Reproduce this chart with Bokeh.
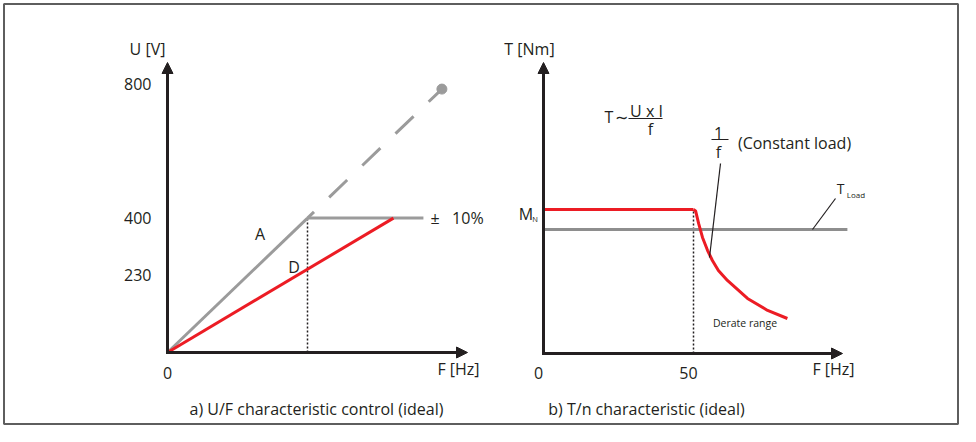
import numpy as np
from bokeh.plotting import figure
from bokeh.models import Range1d, Arrow, NormalHead, Label
from bokeh.core.properties import value
from bokeh.embed import file_html
from bokeh.resources import INLINE

# ---------------- data: panel a) U/F characteristic ----------------
u_ticks = [230, 400, 800]
u_tick_labels = ["230", "400", "800"]
f_ticks_a = [0]
f_tick_labels_a = ["0"]
line_A_f = [0, 50]          # grey line A
line_A_u = [0, 400]
plateau_f = [50, 91.4]      # grey plateau at nominal voltage
plateau_u = [400, 400]
ext_f = [50, 98]            # dashed extension of A
ext_u = [400, 784]
line_D_f = [0, 80.7]        # red line D
line_D_u = [0, 400]
rated_f_a = [50]
rated_u_a = [400]

# ---------------- data: panel b) T/n characteristic ----------------
f_ticks_b = [0, 50]
f_tick_labels_b = ["0", "50"]
flat_f = [0, 50]
flat_t = [100, 100]
derate_f = [50, 50.7, 51.7, 53.0, 54.7, 56.3, 58.3, 61.3, 68.0, 74.7, 81.3]
derate_t = [100, 99.0, 90.3, 80.6, 71.5, 64.6, 57.6, 50.7, 38.2, 29.9, 24.3]
load_f = [0, 101.3]
load_t = [86.1, 86.1]
rated_f_b = [50]
rated_t_b = [100]

# ---------------- layout / style ----------------
W, H = 960, 426
FONT = "Open Sans"
TXT = "#231f20"
RED = "#ec1c24"
GREY = "#9b9b9b"
GREY2 = "#8e8e8e"

# panel a mapping (canvas px)
AX0, AY0, ASX, ASY = 167, 352, 2.8, 0.336
# panel b mapping
BX0, BY0, BSX, BSY = 543, 353, 3.0, 1.44


def xr(o, s):
    return Range1d((0 - o) / s, (W - o) / s)


def yr(o, s):
    return Range1d((o - H) / s, (o - 0) / s)


p = figure(width=W, height=H, output_backend="svg", toolbar_location=None,
           x_axis_location=None, y_axis_location=None, min_border=0,
           x_range=xr(AX0, ASX), y_range=yr(AY0, ASY))
p.extra_x_ranges = {"bx": xr(BX0, BSX)}
p.extra_y_ranges = {"by": yr(BY0, BSY)}
p.xgrid.visible = False
p.ygrid.visible = False
p.outline_line_color = None
p.background_fill_color = "white"
p.border_fill_color = "white"

B = dict(x_range_name="bx", y_range_name="by")


def lab(text, X, Y, size=16, align="center", baseline="middle"):
    p.add_layout(Label(x=X, y=H - Y, x_units="screen", y_units="screen",
                       text=text, text_font=FONT, text_font_size=f"{size}px",
                       text_align=align, text_baseline=baseline, text_color=TXT))


def a_pt(X, Y):
    return (X - AX0) / ASX, (AY0 - Y) / ASY


def b_pt(X, Y):
    return (X - BX0) / BSX, (BY0 - Y) / BSY


def axis_arrow(x0, y0, x1, y1, **kw):
    p.add_layout(Arrow(end=NormalHead(size=11, fill_color=TXT, line_color=TXT, line_width=1),
                       x_start=x0, y_start=y0, x_end=x1, y_end=y1,
                       line_color=TXT, line_width=3, line_cap="square", **kw))

# page frame
f0 = a_pt(3.5, 3.5)
f1 = a_pt(W - 2.5, H - 2.5)
p.quad(left=[f0[0]], right=[f1[0]], top=[f0[1]], bottom=[f1[1]],
       fill_color=None, line_color="#5e5e5e", line_width=2)

# ---------- panel a ----------
p.segment(x0=rated_f_a, y0=[0], x1=rated_f_a, y1=rated_u_a, line_color=TXT,
          line_width=1.5, line_dash="2 2")
p.line(line_A_f, line_A_u, line_color=GREY, line_width=3)
p.line(plateau_f, plateau_u, line_color=GREY, line_width=3)
p.line(ext_f, ext_u, line_color=GREY, line_width=3, line_dash="25 21", line_dash_offset=16)
p.scatter(ext_f[-1:], ext_u[-1:], size=10, color=GREY)
p.line(line_D_f, line_D_u, line_color=RED, line_width=3)

axis_arrow(0, 0, (467 - AX0) / ASX, 0)
axis_arrow(0, 0, 0, (AY0 - 62) / ASY)

p.text(x=[0] * len(u_ticks), y=u_ticks, text=u_tick_labels, x_offset=-16,
       text_align="right", text_baseline="middle", text_font=value(FONT),
       text_font_size="16px", text_color=TXT)
p.text(x=f_ticks_a, y=[0], text=f_tick_labels_a, y_offset=20,
       text_align="center", text_baseline="middle", text_font=value(FONT),
       text_font_size="16px", text_color=TXT)

lab("U [V]", 147, 48)
lab("F [Hz]", 458, 368)
lab("A", 259.5, 233)
lab("D", 293.5, 266)
lab("\u00b1\u00a0\u00a0 10%", 430, 217, align="left")
lab("a) U/F characteristic control (ideal)", 316, 408)

# ---------- panel b ----------
p.segment(x0=rated_f_b, y0=[0], x1=rated_f_b, y1=rated_t_b, line_color=TXT,
          line_width=1.5, line_dash="2 2", **B)
p.line(load_f, load_t, line_color=GREY2, line_width=3, **B)
p.line(flat_f, flat_t, line_color=RED, line_width=3, **B)
p.line(derate_f, derate_t, line_color=RED, line_width=3, **B)

axis_arrow(0, 0, (842 - BX0) / BSX, 0, **B)
axis_arrow(0, 0, 0, (BY0 - 62) / BSY, **B)

p.text(x=f_ticks_b, y=[0, 0], text=f_tick_labels_b, y_offset=19, x_offset=-5,
       text_align="center", text_baseline="middle", text_font=value(FONT),
       text_font_size="16px", text_color=TXT, **B)

# leader lines
l1 = [b_pt(720, 163), b_pt(709, 257)]
l2 = [b_pt(835, 198), b_pt(812, 229)]
p.segment(x0=[l1[0][0], l2[0][0]], y0=[l1[0][1], l2[0][1]],
          x1=[l1[1][0], l2[1][0]], y1=[l1[1][1], l2[1][1]],
          line_color=TXT, line_width=1.2, **B)
# fraction bars
fb1 = [b_pt(628, 118), b_pt(662, 118)]
fb2 = [b_pt(711, 139), b_pt(728, 139)]
p.segment(x0=[fb1[0][0], fb2[0][0]], y0=[fb1[0][1], fb2[0][1]],
          x1=[fb1[1][0], fb2[1][0]], y1=[fb1[1][1], fb2[1][1]],
          line_color=TXT, line_width=1, **B)

lab("T [Nm]", 529, 48)
lab("F [Hz]", 833, 368)
lab("M", 525.5, 213)
lab("N", 534.5, 218, size=7.5)
lab("T", 604, 116, align="left")
lab("\u223c", 621, 116)
lab("U x I", 646, 110)
lab("f", 650, 128)
lab("1", 718, 132)
lab("f", 718, 151)
lab("(Constant load)", 794, 142)
lab("T", 840, 188, size=14)
lab("Load", 855.5, 194, size=8)
lab("Derate range", 744.5, 322, size=10.5)
lab("b) T/n characteristic (ideal)", 646, 408)

open("out.html", "w").write(file_html(p, INLINE))
